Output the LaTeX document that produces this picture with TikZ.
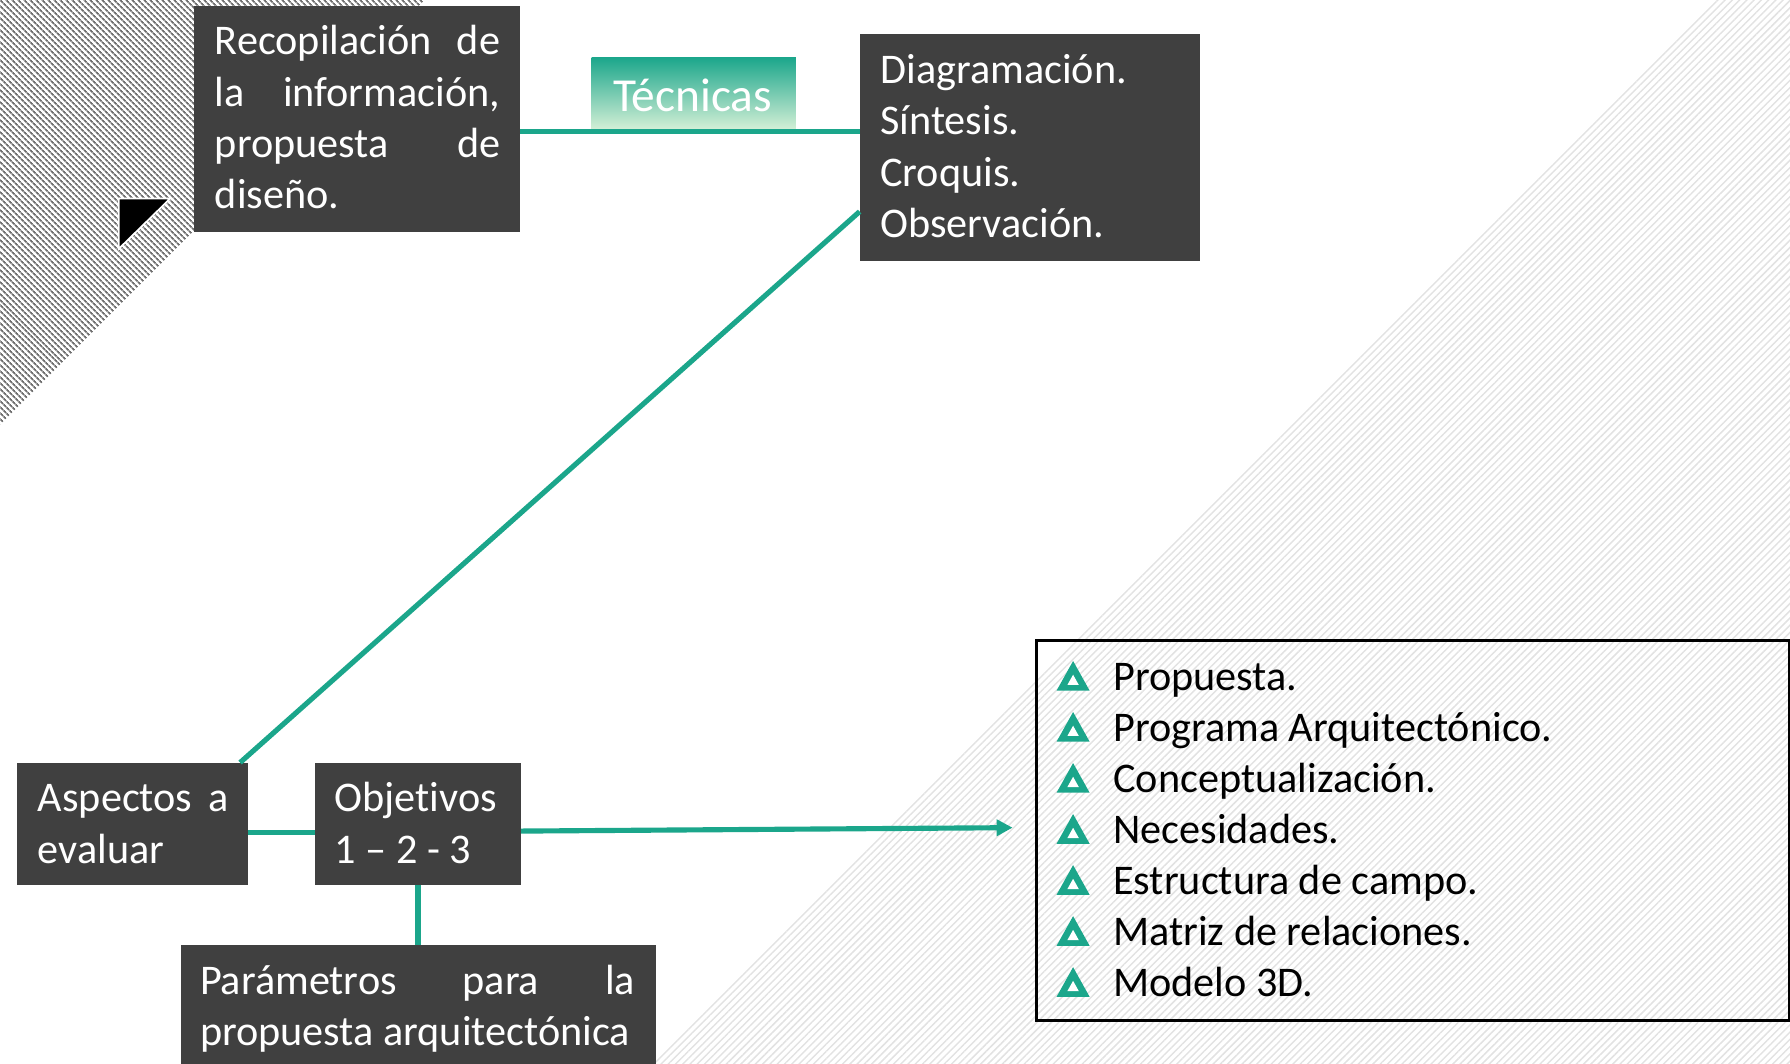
\documentclass[tikz,border=0pt]{standalone}
\usepackage{fontspec}
\setmainfont{Carlito}[Ligatures={NoCommon}]
\usetikzlibrary{patterns.meta,arrows.meta,calc}
\definecolor{tealc}{HTML}{1BA68B}
\definecolor{darkbox}{HTML}{404040}
\definecolor{tecTop}{HTML}{1BA68B}
\definecolor{tecBot}{HTML}{D3EFD6}
\definecolor{hatchDark}{HTML}{707070}
\definecolor{hatchLight}{HTML}{E2E2E2}
\tikzset{
  dbox/.style={fill=darkbox, draw=none, inner sep=0pt, anchor=north west},
  wtext/.style={text=white, inner sep=0pt, anchor=base west, font=\fontsize{37}{45}\selectfont},
  listtxt/.style={text=black, inner sep=0pt, anchor=base west, font=\fontsize{37}{45}\selectfont},
  conn/.style={draw=tealc, line width=4.5pt},
}
\newcommand\jl[2]{\makebox[#1][s]{#2}}
\begin{document}
\begin{tikzpicture}[x=1pt,y=-1pt]
\useasboundingbox (0,0) rectangle (1568,932);
% background hatching
\fill[pattern={Lines[angle=45,distance=4.5pt,line width=1.3pt]}, pattern color=hatchLight]
  (1503,0) -- (1568,0) -- (1568,932) -- (571,932) -- cycle;
\fill[pattern={Lines[angle=-45,distance=4pt,line width=2pt]}, pattern color=hatchDark]
  (0,0) -- (372,0) -- (0,372) -- cycle;
% black corner triangle
\fill[black, draw=white, line width=1.5pt] (104,174) -- (149,174) -- (104,218) -- cycle;

% boxes
\node[dbox, minimum width=285pt, minimum height=198pt] (b1) at (170,5) {};
\node[dbox, minimum width=298pt, minimum height=198pt] (b2) at (753,30) {};
\node[dbox, minimum width=202pt, minimum height=107pt] (asp) at (15,668) {};
\node[dbox, minimum width=180pt, minimum height=107pt] (obj) at (276,668) {};
\node[dbox, minimum width=416pt, minimum height=106pt] (par) at (158,828) {};
\node[anchor=north west, inner sep=0pt, minimum width=179pt, minimum height=63pt,
      top color=tecTop, bottom color=tecBot] (tec) at (518,50) {};
\node[text=white, inner sep=0pt, anchor=base, font=\fontsize{41.5}{48}\selectfont]
  (tect) at ($(tec.north)+(-1,48)$) {Técnicas};

% connectors
\coordinate (hy) at (0,115);
\draw[conn] (b1.east |- hy) -- (b2.west |- hy);
\draw[conn] ($(b2.south west)!0.217!(b2.north west)$) -- ($(asp.north west)!0.965!(asp.north east)$);
\coordinate (ay) at (0,729);
\draw[conn] (asp.east |- ay) -- (obj.west |- ay);
\coordinate (oy) at (0,728);
\coordinate (arrEnd) at (887,725);
\draw[conn, -{Triangle[length=14pt,width=14pt]}] (obj.east |- oy) -- (arrEnd);
\draw[conn] (obj.south) -- (par.north);

% box texts
\node[wtext] (t1) at ($(b1.north west)+(18,43)$) {\parbox[t]{250pt}{\jl{250pt}{Recopilación de}\\\jl{250pt}{la información,}\\\jl{250pt}{propuesta de}\\diseño.}};
\node[wtext] (t2) at ($(b2.north west)+(18,43)$) {\parbox[t]{270pt}{Diagramación.\\Síntesis.\\Croquis.\\Observación.}};
\node[wtext] (t3) at ($(asp.north west)+(18,43)$) {\parbox[t]{167pt}{\jl{167pt}{Aspectos a}\\evaluar}};
\node[wtext] (t4) at ($(obj.north west)+(17,43)$) {\parbox[t]{160pt}{Objetivos\\1 – 2 - 3}};
\node[wtext] (t5) at ($(par.north west)+(17,43)$) {\parbox[t]{381pt}{\jl{381pt}{Parámetros para la}\\propuesta arquitectónica}};

% list box
\node[draw=black, line width=2.5pt, inner sep=0pt, anchor=north west,
      minimum width=659pt, minimum height=333pt] (lbox) at (907,560) {};
\foreach \t [count=\i] in {Propuesta., Programa Arquitectónico., Conceptualización., Necesidades., Estructura de campo., Matriz de relaciones., Modelo 3D.} {
  \pgfmathsetmacro{\yb}{605+44.7*(\i-1)}
  \node[listtxt] (li\i) at (975,\yb) {\t};
  \fill[tealc] (925.5,\yb) -- (954.5,\yb) -- (940,\yb-26) -- cycle;
  \fill[white] (935,\yb-5) -- (945,\yb-5) -- (940,\yb-14) -- cycle;
}
\end{tikzpicture}
\end{document}
